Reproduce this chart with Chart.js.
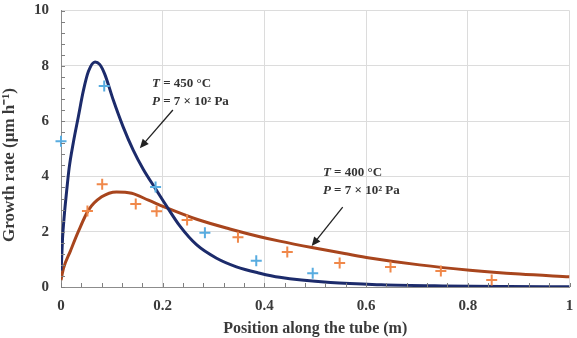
<!DOCTYPE html>
<html>
<head>
<meta charset="utf-8">
<script src="https://cdn.jsdelivr.net/npm/chart.js@4.4.1/dist/chart.umd.min.js"></script>
<style>
  html, body { margin: 0; padding: 0; background: #fff; }
  #wrap { width: 577px; height: 338px; }
</style>
</head>
<body>
<div id="wrap"><canvas id="myChart" width="577" height="338"></canvas></div>
<script>
// fitted curves
const curve450X = [0, 0.001, 0.003, 0.0065, 0.011, 0.016, 0.024, 0.034, 0.044, 0.054, 0.067, 0.076, 0.086, 0.103, 0.122, 0.142, 0.162, 0.186, 0.205, 0.234, 0.267, 0.306, 0.345, 0.391, 0.43, 0.53, 0.63, 0.75, 0.88, 1.0]
const curve450Y = [0.6, 0.9, 1.75, 2.6, 3.45, 4.3, 5.2, 6.15, 7.1, 7.8, 8.14, 8.05, 7.7, 6.75, 5.8, 4.95, 4.25, 3.55, 3.0, 2.2, 1.52, 1.04, 0.73, 0.5, 0.35, 0.16, 0.08, 0.04, 0.02, 0.01]

const curve400X = [0, 0.005, 0.018, 0.034, 0.054, 0.08, 0.109, 0.139, 0.172, 0.208, 0.267, 0.332, 0.391, 0.43, 0.496, 0.561, 0.607, 0.705, 0.804, 0.902, 1.0]
const curve400Y = [0.25, 0.68, 1.28, 2.0, 2.78, 3.26, 3.44, 3.39, 3.14, 2.86, 2.45, 2.1, 1.82, 1.66, 1.42, 1.2, 1.05, 0.8, 0.61, 0.47, 0.37]

// measured points
const meas450X = [0, 0.085, 0.186, 0.283, 0.384, 0.495]
const meas450Y = [5.27, 7.27, 3.62, 1.96, 0.95, 0.5]
const meas400X = [0.052, 0.081, 0.147, 0.188, 0.248, 0.348, 0.445, 0.548, 0.648, 0.747, 0.847]
const meas400Y = [2.75, 3.72, 3.0, 2.74, 2.42, 1.8, 1.27, 0.87, 0.72, 0.58, 0.25]

const xTicks = [0, 0.2, 0.4, 0.6, 0.8, 1]
const yTicks = [0, 2, 4, 6, 8, 10]

const pts = (xs, ys) => xs.map((x, i) => ({ x: x, y: ys[i] }))

const serif = '"Liberation Serif", "Times New Roman", serif'
const textColor = '#3a3a3a'

// labels with arrows, in data units
const notes = [
    { tx: 0.179, ty: 7.37, temp: '450', from: [0.22, 6.4], to: [0.155, 5.02] },
    { tx: 0.515, ty: 4.12, temp: '400', from: [0.554, 2.89], to: [0.493, 1.48] }
]

const extras = {
    id: 'extras',
    afterDraw(chart) {
        const c = chart.ctx
        const xs = chart.scales.x, ys = chart.scales.y
        const area = chart.chartArea
        c.save()
        // minor ticks, inside
        c.strokeStyle = '#7f7f7f'
        c.lineWidth = 1
        c.beginPath()
        for (let i = 0; i <= 25; i++) {
            const px = Math.round(xs.getPixelForValue(i * 0.04)) + 0.5
            c.moveTo(px, area.bottom)
            c.lineTo(px, area.bottom - 4)
        }
        for (let i = 0; i <= 25; i++) {
            const py = Math.round(ys.getPixelForValue(i * 0.4)) + 0.5
            c.moveTo(area.left, py)
            c.lineTo(area.left + 4, py)
        }
        c.stroke()

        // y axis title (sits a little below the middle, like the original)
        c.save()
        c.translate(10, 165)
        c.rotate(-Math.PI / 2)
        c.fillStyle = textColor
        c.font = 'bold 17px ' + serif
        c.textAlign = 'center'
        c.textBaseline = 'middle'
        c.fillText('Growth rate (μm h⁻¹)', 0, 0)
        c.restore()

        // annotations
        notes.forEach(n => {
            const x = xs.getPixelForValue(n.tx)
            const y1 = ys.getPixelForValue(n.ty)
            const y2 = y1 + 18
            c.fillStyle = '#333'
            c.textBaseline = 'middle'
            c.textAlign = 'left'
            c.font = 'italic bold 13px ' + serif
            c.fillText('T', x, y1)
            let w = c.measureText('T').width
            c.font = 'bold 13px ' + serif
            c.fillText(' = ' + n.temp + ' °C', x + w, y1)
            c.font = 'italic bold 13px ' + serif
            c.fillText('P', x, y2)
            w = c.measureText('P').width
            c.font = 'bold 13px ' + serif
            c.fillText(' = 7 × 10² Pa', x + w, y2)

            const ax = xs.getPixelForValue(n.from[0]), ay = ys.getPixelForValue(n.from[1])
            const bx = xs.getPixelForValue(n.to[0]), by = ys.getPixelForValue(n.to[1])
            const ang = Math.atan2(by - ay, bx - ax)
            c.strokeStyle = '#222'
            c.lineWidth = 1.3
            c.beginPath()
            c.moveTo(ax, ay)
            c.lineTo(bx - 6 * Math.cos(ang), by - 6 * Math.sin(ang))
            c.stroke()
            c.fillStyle = '#222'
            c.beginPath()
            c.moveTo(bx, by)
            c.lineTo(bx - 9 * Math.cos(ang) + 4 * Math.sin(ang), by - 9 * Math.sin(ang) - 4 * Math.cos(ang))
            c.lineTo(bx - 9 * Math.cos(ang) - 4 * Math.sin(ang), by - 9 * Math.sin(ang) + 4 * Math.cos(ang))
            c.closePath()
            c.fill()
        })
        c.restore()
    }
}

const ctx = document.getElementById('myChart')
const chart = new Chart(ctx, {
    type: 'scatter',
    data: {
        datasets: [
            {
                data: pts(curve400X, curve400Y),
                showLine: true,
                borderColor: '#a8451d',
                borderWidth: 3,
                pointRadius: 0,
                cubicInterpolationMode: 'monotone',
                order: 2
            },
            {
                data: pts(curve450X, curve450Y),
                showLine: true,
                borderColor: '#1c2b6b',
                borderWidth: 3,
                pointRadius: 0,
                cubicInterpolationMode: 'monotone',
                order: 1
            },
            {
                data: pts(meas450X, meas450Y),
                pointStyle: 'cross',
                pointRadius: 5.5,
                borderColor: '#58ace0',
                borderWidth: 2,
                clip: false,
                order: 0
            },
            {
                data: pts(meas400X, meas400Y),
                pointStyle: 'cross',
                pointRadius: 5.5,
                borderColor: '#f0884a',
                borderWidth: 2,
                clip: false,
                order: 0
            }
        ]
    },
    options: {
        responsive: false,
        animation: false,
        layout: { padding: { top: 10.5, right: 7, left: 0, bottom: 0 } },
        plugins: {
            legend: { display: false },
            tooltip: { enabled: false }
        },
        scales: {
            x: {
                type: 'linear',
                min: 0,
                max: 1,
                afterBuildTicks: axis => { axis.ticks = xTicks.map(v => ({ value: v })) },
                afterFit: axis => {
                    axis.height = 51
                    axis.paddingLeft = 0
                    axis.paddingRight = 0
                },
                grid: { color: '#dcdcdc', drawTicks: false },
                border: { color: '#8c8c8c' },
                ticks: {
                    padding: 10,
                    color: textColor,
                    font: { family: serif, size: 15, weight: 'bold' },
                    maxRotation: 0,
                    callback: v => String(v)
                },
                title: {
                    display: true,
                    text: 'Position along the tube (m)',
                    color: textColor,
                    font: { family: serif, size: 16, weight: 'bold' },
                    padding: { top: 1, bottom: 0 }
                }
            },
            y: {
                type: 'linear',
                min: 0,
                max: 10,
                afterBuildTicks: axis => { axis.ticks = yTicks.map(v => ({ value: v })) },
                afterFit: axis => {
                    axis.width = 61
                    axis.paddingTop = 0
                    axis.paddingBottom = 0
                },
                grid: { color: '#dcdcdc', drawTicks: false },
                border: { color: '#8c8c8c' },
                ticks: {
                    padding: 12,
                    color: textColor,
                    font: { family: serif, size: 15, weight: 'bold' },
                    callback: v => String(v)
                },
                title: { display: false }
            }
        }
    },
    plugins: [extras]
})
</script>
</body>
</html>
